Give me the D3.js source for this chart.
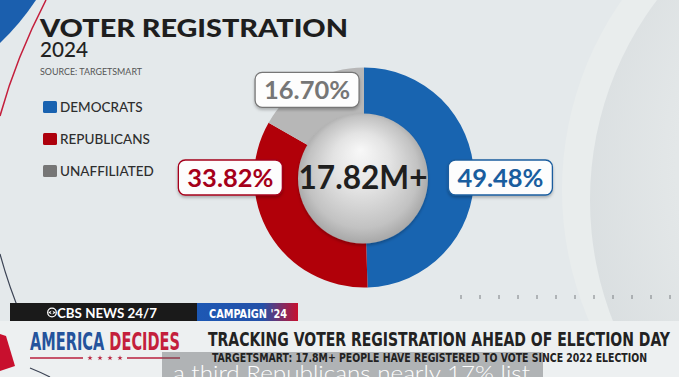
<!DOCTYPE html>
<html>
<head>
<meta charset="utf-8">
<script src="https://cdn.jsdelivr.net/npm/d3@7"></script>
<style>
  html, body { margin: 0; padding: 0; background: #e4e9eb; overflow: hidden; }
  svg { display: block; }
  text { font-family: Lato, "Open Sans", sans-serif; }
  .cond { font-family: "Liberation Sans Narrow", "DejaVu Sans Condensed", "Roboto Condensed", Lato, sans-serif; font-stretch: condensed; }
</style>
</head>
<body>
<div id="main"></div>
<script>
// chart values
const parties = ["DEMOCRATS", "REPUBLICANS", "UNAFFILIATED"];
const shares = [49.48, 33.82, 16.70];
const shareLabels = ["49.48%", "33.82%", "16.70%"];
const totalLabel = "17.82M+";

const titleText = "VOTER REGISTRATION";
const yearText = "2024";
const sourceText = "SOURCE: TARGETSMART";

const bugLeft = "CBS NEWS 24/7";
const bugRight = "CAMPAIGN '24";
const showName = ["AMERICA", "DECIDES"];
const headline = "TRACKING VOTER REGISTRATION AHEAD OF ELECTION DAY";
const subline = "TARGETSMART: 17.8M+ PEOPLE HAVE REGISTERED TO VOTE SINCE 2022 ELECTION";
const captionText = "a third Republicans nearly 17% list";

const width = 679, height = 377;

const ringColor = d3.scaleOrdinal().domain(parties).range(["#1864b0", "#b10009", "#b7b7b7"]);
const keyColor = d3.scaleOrdinal().domain(parties).range(["#1862b0", "#ad000c", "#767676"]);
const textColor = d3.scaleOrdinal().domain(parties).range(["#1a5d9e", "#a5001a", "#767676"]);

// where each callout sits: angle (deg, clockwise from top) and radius as a share of outer radius
const callout = [{ a: 90, r: 1.24 }, { a: 270, r: 1.215 }, { a: -33, r: 0.95 }];

const svg = d3.select("#main").append("svg")
    .attr("width", width)
    .attr("height", height);

const defs = svg.append("defs");

const sphere = defs.append("radialGradient").attr("id", "sphere")
    .attr("cx", "50%").attr("cy", "50%").attr("r", "55%")
    .attr("fx", "48%").attr("fy", "28%");
sphere.append("stop").attr("offset", "0%").attr("stop-color", "#f8f8f8");
sphere.append("stop").attr("offset", "40%").attr("stop-color", "#e3e3e3");
sphere.append("stop").attr("offset", "78%").attr("stop-color", "#c2c2c2");
sphere.append("stop").attr("offset", "100%").attr("stop-color", "#9c9c9c");

const bigDisc = defs.append("radialGradient").attr("id", "bigdisc")
    .attr("cx", "55%").attr("cy", "45%").attr("r", "60%");
bigDisc.append("stop").attr("offset", "0%").attr("stop-color", "#f3f5f5");
bigDisc.append("stop").attr("offset", "70%").attr("stop-color", "#e3e7e8");
bigDisc.append("stop").attr("offset", "100%").attr("stop-color", "#d8dddf");

const campaign = defs.append("linearGradient").attr("id", "campaign");
campaign.append("stop").attr("offset", "0%").attr("stop-color", "#1d58b4");
campaign.append("stop").attr("offset", "65%").attr("stop-color", "#2451a8");
campaign.append("stop").attr("offset", "100%").attr("stop-color", "#c8102e");

const shadow = defs.append("filter").attr("id", "shadow")
    .attr("x", "-20%").attr("y", "-20%").attr("width", "140%").attr("height", "160%");
shadow.append("feDropShadow").attr("dx", 0).attr("dy", 2).attr("stdDeviation", 1.6)
    .attr("flood-color", "#000").attr("flood-opacity", 0.25);

// background decoration
svg.append("rect").attr("width", width).attr("height", height).attr("fill", "#e4e9eb");
svg.append("circle").attr("cx", 893).attr("cy", 190).attr("r", 331).attr("fill", "#e9eded");
svg.append("circle").attr("cx", 922).attr("cy", 200).attr("r", 332).attr("fill", "url(#bigdisc)");

svg.append("path").attr("d", "M0,0 L36,0 Q20,24 0,43 Z").attr("fill", "#1b5fae");
svg.append("path").attr("d", "M46,0 Q16,58 0,116").attr("fill", "none")
    .attr("stroke", "#c41f3c").attr("stroke-width", 1.5);
svg.append("path").attr("d", "M0,254 Q18,320 52,377").attr("fill", "none")
    .attr("stroke", "#3c4455").attr("stroke-width", 1.2);

// small ticks along the bottom right
svg.append("g").selectAll("line")
    .data(d3.range(461, width, 19))
    .join("line")
    .attr("x1", d => d).attr("x2", d => d)
    .attr("y1", 295).attr("y2", 299)
    .attr("stroke", "#7a7f82").attr("stroke-width", 1);

// titles
svg.append("text").text(titleText)
    .attr("x", 40).attr("y", 37)
    .attr("font-size", 25).attr("font-weight", 900).attr("fill", "#1e1e1e")
    .attr("textLength", 308).attr("lengthAdjust", "spacingAndGlyphs");
svg.append("text").text(yearText)
    .attr("x", 40).attr("y", 57)
    .attr("font-size", 21).attr("font-weight", 500).attr("fill", "#222")
    .attr("textLength", 48).attr("lengthAdjust", "spacingAndGlyphs");
svg.append("text").text(sourceText)
    .attr("x", 40).attr("y", 75)
    .attr("font-size", 9).attr("fill", "#555")
    .attr("textLength", 102).attr("lengthAdjust", "spacingAndGlyphs");

// legend
const legendY = d3.scalePoint().domain(parties).range([101, 165]);
const legend = svg.append("g").selectAll("g")
    .data(parties)
    .join("g")
    .attr("transform", d => `translate(43,${legendY(d)})`);
legend.append("rect")
    .attr("width", 14).attr("height", 12).attr("rx", 1.5)
    .attr("fill", d => keyColor(d));
legend.append("text")
    .attr("x", 17).attr("y", 11)
    .attr("font-size", 13.5).attr("font-weight", 500).attr("fill", "#2e2e2e")
    .text(d => d);

// donut
const cx = 364, cy = 177.5, outerR = 110, innerR = 62;
const pie = d3.pie().sort(null).value(d => d.value);
const arcs = pie(parties.map((p, i) => ({ party: p, value: shares[i], label: shareLabels[i], i: i })));
const arc = d3.arc().innerRadius(innerR).outerRadius(outerR);

const donut = svg.append("g").attr("transform", `translate(${cx},${cy})`);
donut.selectAll("path")
    .data(arcs)
    .join("path")
    .attr("d", arc)
    .attr("fill", d => ringColor(d.data.party));

donut.append("circle")
    .attr("cx", -1).attr("cy", 1).attr("r", 65)
    .attr("fill", "url(#sphere)")
    .attr("filter", "url(#shadow)");

donut.append("text")
    .attr("x", -1).attr("y", 11)
    .attr("text-anchor", "middle")
    .attr("font-size", 32).attr("font-weight", 700).attr("fill", "#1f1f1f")
    .attr("textLength", 129).attr("lengthAdjust", "spacingAndGlyphs")
    .text(totalLabel);

// callout boxes
const boxes = donut.selectAll("g.callout")
    .data(arcs)
    .join("g")
    .attr("class", "callout")
    .attr("transform", d => {
        const c = callout[d.data.i];
        const a = c.a * Math.PI / 180;
        return `translate(${Math.sin(a) * c.r * outerR},${-Math.cos(a) * c.r * outerR})`;
    });
boxes.append("rect")
    .attr("x", -52).attr("y", -17.5)
    .attr("width", 104).attr("height", 35).attr("rx", 7)
    .attr("fill", "#fdfdfd")
    .attr("stroke", d => textColor(d.data.party)).attr("stroke-width", 1.3)
    .attr("filter", "url(#shadow)");
boxes.append("text")
    .attr("y", 9)
    .attr("text-anchor", "middle")
    .attr("font-size", 25).attr("font-weight", 700)
    .attr("fill", d => textColor(d.data.party))
    .attr("textLength", 86).attr("lengthAdjust", "spacingAndGlyphs")
    .text(d => d.data.label);

// lower third
svg.append("rect").attr("x", 0).attr("y", 321).attr("width", width).attr("height", 56).attr("fill", "#edf0f1");
svg.append("path").attr("d", "M0,334 L6,336 L15,366 L0,371 Z").attr("fill", "#c8102e");
svg.append("path").attr("d", "M30,368 Q40,372 50,377").attr("fill", "none")
    .attr("stroke", "#3c4455").attr("stroke-width", 1.2);

svg.append("rect").attr("x", 10).attr("y", 303).attr("width", 187).attr("height", 18).attr("fill", "#1a1a1a");
svg.append("rect").attr("x", 197).attr("y", 303).attr("width", 101).attr("height", 18).attr("fill", "url(#campaign)");

// cbs eye
const eye = svg.append("g").attr("transform", "translate(52,312.5)");
eye.append("circle").attr("r", 4.3).attr("fill", "none").attr("stroke", "#fff").attr("stroke-width", 1.3);
eye.append("path").attr("d", "M-3.6,0 Q0,-3.4 3.6,0 Q0,3.4 -3.6,0 Z").attr("fill", "#fff");
eye.append("circle").attr("r", 1.4).attr("fill", "#1a1a1a");

svg.append("text").text(bugLeft)
    .attr("x", 57).attr("y", 317.5)
    .attr("font-size", 12.5).attr("font-weight", 700).attr("fill", "#fff")
    .attr("textLength", 100).attr("lengthAdjust", "spacingAndGlyphs");
svg.append("text").attr("class", "cond").text(bugRight)
    .attr("x", 209).attr("y", 317.5)
    .attr("font-size", 13).attr("font-weight", 900).attr("fill", "#fff")
    .attr("textLength", 78).attr("lengthAdjust", "spacingAndGlyphs");

svg.append("text").attr("class", "cond")
    .attr("x", 30).attr("y", 350)
    .attr("font-size", 24).attr("font-weight", 900)
    .attr("textLength", 150).attr("lengthAdjust", "spacingAndGlyphs")
    .selectAll("tspan")
    .data(showName)
    .join("tspan")
    .attr("fill", (d, i) => i === 0 ? "#24539c" : "#c41f3c")
    .text((d, i) => i === 0 ? d + " " : d);

svg.append("line").attr("x1", 30).attr("x2", 83).attr("y1", 358).attr("y2", 358).attr("stroke", "#b8213d").attr("stroke-width", 1.3);
svg.append("line").attr("x1", 127).attr("x2", 180).attr("y1", 358).attr("y2", 358).attr("stroke", "#b8213d").attr("stroke-width", 1.3);
svg.append("g").selectAll("path")
    .data(d3.range(4))
    .join("path")
    .attr("d", d3.symbol(d3.symbolStar, 9))
    .attr("transform", d => `translate(${90 + d * 10},358)`)
    .attr("fill", "#b8213d");

svg.append("text").attr("class", "cond").text(headline)
    .attr("x", 208).attr("y", 346)
    .attr("font-size", 20).attr("font-weight", 900).attr("fill", "#222")
    .attr("textLength", 462).attr("lengthAdjust", "spacingAndGlyphs");

// caption overlay
svg.append("rect").attr("x", 162).attr("y", 352).attr("width", 381).attr("height", 30)
    .attr("fill", "#5c5f61").attr("fill-opacity", 0.42);
svg.append("text").attr("class", "cond").text(subline)
    .attr("x", 212).attr("y", 361.5)
    .attr("font-size", 11.5).attr("font-weight", 900).attr("fill", "#222")
    .attr("textLength", 435).attr("lengthAdjust", "spacingAndGlyphs");
svg.append("text").text(captionText)
    .attr("x", 173).attr("y", 381)
    .attr("font-family", "'Noto Sans', 'Open Sans', sans-serif")
    .attr("font-size", 21).attr("font-weight", 300).attr("fill", "#fff")
    .attr("textLength", 357).attr("lengthAdjust", "spacingAndGlyphs");
</script>
</body>
</html>
